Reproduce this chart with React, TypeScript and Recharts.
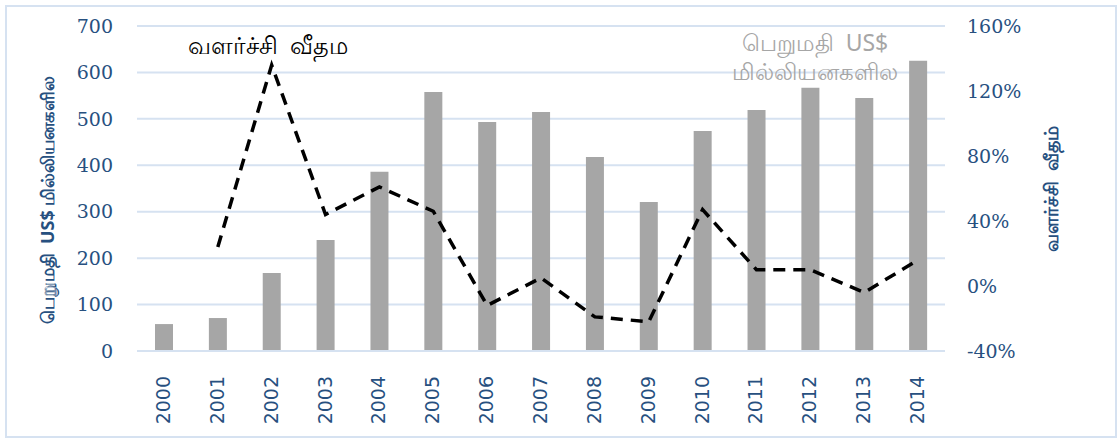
import React from "react";
import { ComposedChart, Bar, Line, XAxis, YAxis, CartesianGrid } from "recharts";

const years = ["2000", "2001", "2002", "2003", "2004", "2005", "2006", "2007", "2008", "2009", "2010", "2011", "2012", "2013", "2014"];
// value in US$ millions
const exportValue = [58, 71, 168, 239, 386, 558, 493, 515, 418, 321, 474, 519, 567, 545, 625];
// growth rate, %
const growthRate = [null, 24, 136, 44, 61, 46, -12, 5, -19, -22, 47, 10, 10, -4, 16];

const valueTicks = [0, 100, 200, 300, 400, 500, 600, 700];
const growthTicks = [-40, 0, 40, 80, 120, 160];

const data = years.map((year, i) => ({ year, value: exportValue[i], growth: growthRate[i] }));

const axisBlue = "#27507f";
const gridBlue = "#d6e2f1";
const barGray = "#a6a6a6";

const tickFont = { fontFamily: "DejaVu Serif", fontSize: 19, fill: axisBlue };

// rotated year labels, read bottom-to-top
function YearTick({ x, y, payload }: any) {
  const top = y + 17;
  return (
    <text
      transform={`rotate(-90 ${x} ${top})`}
      x={x}
      y={top}
      dy={6}
      textAnchor="end"
      fontFamily="DejaVu Sans"
      fontSize={19}
      fill={axisBlue}
    >
      {payload.value}
    </text>
  );
}

export default function App() {
  return (
    <div style={{ position: "absolute", left: 0, top: 0, width: 1120, height: 440, background: "#fff" }}>
      <div
        style={{
          position: "absolute",
          left: 5,
          top: 5,
          width: 1108,
          height: 429,
          border: `2px solid ${gridBlue}`,
        }}
      />
      <div style={{ position: "absolute", left: 0, top: 0 }}>
        <ComposedChart width={1120} height={440} data={data} margin={{ top: 26, right: 0, bottom: 0, left: 0 }} barCategoryGap="33%">
          <CartesianGrid yAxisId="left" vertical={false} stroke={gridBlue} strokeWidth={2} />
          <XAxis
            dataKey="year"
            height={89}
            axisLine={{ stroke: gridBlue, strokeWidth: 2 }}
            tickLine={false}
            interval={0}
            tick={<YearTick />}
          />
          <YAxis
            yAxisId="left"
            width={137}
            domain={[0, 700]}
            ticks={valueTicks}
            axisLine={false}
            tickLine={false}
            tickMargin={18}
            tick={tickFont}
          />
          <YAxis
            yAxisId="right"
            orientation="right"
            width={175}
            domain={[-40, 160]}
            ticks={growthTicks}
            axisLine={false}
            tickLine={false}
            tickMargin={16}
            tick={tickFont}
            tickFormatter={(v: number) => `${v}%`}
          />
          <Bar yAxisId="left" dataKey="value" fill={barGray} barSize={18} isAnimationActive={false} />
          <Line
            yAxisId="right"
            dataKey="growth"
            stroke="#000"
            strokeWidth={3.5}
            strokeDasharray="12 8"
            dot={false}
            type="linear"
            isAnimationActive={false}
          />
        </ComposedChart>
      </div>
      <div
        style={{
          position: "absolute",
          left: 48,
          top: 200,
          transform: "translate(-50%, -50%) rotate(-90deg)",
          whiteSpace: "pre",
          fontFamily: "Noto Sans",
          fontWeight: 700,
          fontSize: 18,
          color: axisBlue,
        }}
      >
        பெறுமதி  US$ மில்லியனகளில
      </div>
      <div
        style={{
          position: "absolute",
          left: 1051,
          top: 189,
          transform: "translate(-50%, -50%) rotate(-90deg)",
          whiteSpace: "pre",
          fontFamily: "Noto Sans",
          fontWeight: 700,
          fontSize: 19,
          color: axisBlue,
        }}
      >
        வளர்ச்சி  வீதம்
      </div>
      <div
        style={{
          position: "absolute",
          left: 188,
          top: 28,
          whiteSpace: "pre",
          fontFamily: "Noto Sans",
          fontSize: 24,
          color: "#000",
        }}
      >
        வளர்ச்சி  வீதம
      </div>
      <div
        style={{
          position: "absolute",
          left: 815,
          top: 28,
          transform: "translateX(-50%)",
          whiteSpace: "pre",
          textAlign: "center",
          fontFamily: "Noto Sans",
          fontSize: 23,
          lineHeight: "29px",
          color: barGray,
        }}
      >
        {"பெறுமதி  US$\nமில்லியனகளில"}
      </div>
    </div>
  );
}
